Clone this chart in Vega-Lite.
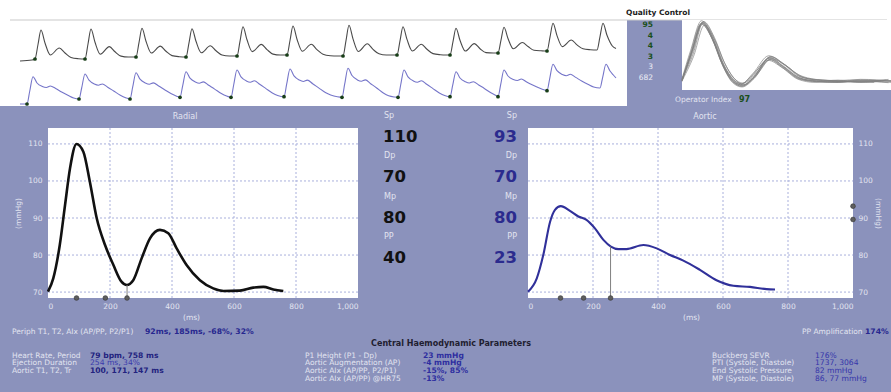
{
"$schema":"https://vega.github.io/schema/vega-lite/v6.json",
"width":891,"height":392,"autosize":{"type":"none"},"padding":0,
"background":"#8b92bc",
"config":{"view":{"stroke":null},"font":"DejaVu Sans",
"axis":{"grid":false,"domain":false,"ticks":false,"tickSize":0,"labelColor":"#e2e4f0","labelFont":"DejaVu Sans","labelFontSize":7.5,"titleColor":"#e2e4f0","titleFont":"DejaVu Sans","titleFontSize":7.5,"titleFontWeight":"normal"}},
"datasets":{
"radial":[{"t":0,"p":70.1},{"t":17,"p":73.7},{"t":38,"p":82.7},{"t":55,"p":93.5},{"t":71,"p":103.4},{"t":92,"p":110},{"t":114,"p":107.9},{"t":135,"p":99.8},{"t":157,"p":90},{"t":184,"p":82.7},{"t":211,"p":77.3},{"t":237,"p":72.8},{"t":254,"p":71.9},{"t":275,"p":73.2},{"t":302,"p":79.1},{"t":329,"p":84.5},{"t":361,"p":86.8},{"t":388,"p":85.9},{"t":415,"p":81.8},{"t":447,"p":77.3},{"t":490,"p":73.2},{"t":533,"p":71},{"t":566,"p":70.3},{"t":619,"p":70.4},{"t":662,"p":71.2},{"t":695,"p":71.4},{"t":727,"p":70.7},{"t":759,"p":70.3}],
"aortic":[{"t":0,"p":70.1},{"t":27,"p":73.7},{"t":47,"p":80},{"t":68,"p":89},{"t":83,"p":92.2},{"t":101,"p":93.2},{"t":129,"p":91.9},{"t":155,"p":90.4},{"t":180,"p":89.5},{"t":206,"p":87.2},{"t":232,"p":84.1},{"t":255,"p":82.3},{"t":278,"p":81.6},{"t":303,"p":81.6},{"t":355,"p":82.7},{"t":396,"p":81.8},{"t":437,"p":80},{"t":478,"p":78.5},{"t":529,"p":76},{"t":580,"p":73.2},{"t":632,"p":71.7},{"t":683,"p":71.4},{"t":734,"p":70.8},{"t":760,"p":70.7}],
"markers":[{"site":"Radial","t":92,"p":68.4},{"site":"Radial","t":185,"p":68.4},{"site":"Radial","t":255,"p":68.4},{"site":"Aortic","t":100,"p":68.4},{"site":"Aortic","t":171,"p":68.4},{"site":"Aortic","t":254,"p":68.4},{"site":"AorticRight","t":1000,"p":93.2},{"site":"AorticRight","t":1000,"p":89.6}],
"vgrid":[{"g":200,"p0":68.4,"p1":114.3},{"g":400,"p0":68.4,"p1":114.3},{"g":600,"p0":68.4,"p1":114.3},{"g":800,"p0":68.4,"p1":114.3}],
"hgrid":[{"g":70,"t0":0,"t1":1000},{"g":80,"t0":0,"t1":1000},{"g":90,"t0":0,"t1":1000},{"g":100,"t0":0,"t1":1000},{"g":110,"t0":0,"t1":1000}],
"plotArea":[{"t0":0,"t1":1000,"p0":68.4,"p1":114.3}],
"stripRadial":[{"t":300,"u":0},{"t":480,"u":1},
{"t":525,"u":2,"foot":1},{"t":570,"u":16.5},{"t":615,"u":31},{"t":675,"u":18},{"t":755,"u":6},{"t":890,"u":13},{"t":975,"u":8},{"t":1065,"u":3.5},{"t":1175,"u":2.3},
{"t":1275,"u":2,"foot":1},{"t":1320,"u":17},{"t":1365,"u":32},{"t":1425,"u":18.7},{"t":1505,"u":6.8},{"t":1640,"u":14.4},{"t":1725,"u":9.2},{"t":1815,"u":4.9},{"t":1925,"u":4},
{"t":2040,"u":4,"foot":1},{"t":2085,"u":18.4},{"t":2130,"u":32.7},{"t":2190,"u":19.8},{"t":2270,"u":8},{"t":2405,"u":14.9},{"t":2490,"u":9.7},{"t":2580,"u":5.4},{"t":2690,"u":4.3},
{"t":2790,"u":4,"foot":1},{"t":2835,"u":18.2},{"t":2880,"u":32.3},{"t":2940,"u":19.7},{"t":3020,"u":8.2},{"t":3155,"u":15.2},{"t":3240,"u":10.2},{"t":3330,"u":6},{"t":3440,"u":5},
{"t":3555,"u":5,"foot":1},{"t":3600,"u":19.7},{"t":3645,"u":34.3},{"t":3705,"u":21.2},{"t":3785,"u":9.4},{"t":3920,"u":16.6},{"t":4005,"u":11.4},{"t":4095,"u":6.9},{"t":4205,"u":6},
{"t":4305,"u":6,"foot":1},{"t":4350,"u":20.5},{"t":4395,"u":35},{"t":4455,"u":21.8},{"t":4535,"u":9.8},{"t":4670,"u":16.7},{"t":4755,"u":11.3},{"t":4845,"u":6.8},{"t":4955,"u":5.3},{"t":5065,"u":5},
{"t":5145,"u":5,"foot":1},{"t":5190,"u":20.4},{"t":5235,"u":35.7},{"t":5295,"u":22.1},{"t":5375,"u":9.5},{"t":5510,"u":17.3},{"t":5595,"u":11.6},{"t":5685,"u":7.2},{"t":5795,"u":6},{"t":5885,"u":6},
{"t":5955,"u":6,"foot":1},{"t":6000,"u":20.2},{"t":6045,"u":34.3},{"t":6105,"u":21.6},{"t":6185,"u":10},{"t":6320,"u":16.8},{"t":6405,"u":11.7},{"t":6495,"u":7.4},{"t":6605,"u":6.3},{"t":6685,"u":6},
{"t":6750,"u":6,"foot":1},{"t":6795,"u":19.4},{"t":6840,"u":32.7},{"t":6900,"u":20.7},{"t":6980,"u":10},{"t":7115,"u":17.4},{"t":7200,"u":12.3},{"t":7290,"u":8.4},{"t":7400,"u":8},
{"t":7470,"u":8,"foot":1},{"t":7515,"u":20.9},{"t":7560,"u":33.7},{"t":7620,"u":22.5},{"t":7700,"u":12.2},{"t":7835,"u":18.5},{"t":7920,"u":14.5},{"t":8010,"u":10.7},{"t":8120,"u":10.2},
{"t":8205,"u":10,"foot":1},{"t":8250,"u":23.9},{"t":8295,"u":37.7},{"t":8355,"u":25.4},{"t":8435,"u":14.4},{"t":8570,"u":21},{"t":8655,"u":16.1},{"t":8745,"u":12.2},{"t":8855,"u":11.3},
{"t":8955,"u":11},{"t":9000,"u":24.4},{"t":9045,"u":37.7},{"t":9105,"u":25.7},{"t":9185,"u":15},{"t":9240,"u":12.5}],
"stripAortic":[{"t":300,"v":0},
{"t":405,"v":0,"foot":1},{"t":445,"v":12.5},{"t":495,"v":27.3},{"t":555,"v":21},{"t":635,"v":17.5},{"t":695,"v":16.5},{"t":755,"v":18},{"t":835,"v":15.5},{"t":925,"v":12},{"t":1025,"v":8.5},{"t":1105,"v":6},
{"t":1185,"v":5,"foot":1},{"t":1225,"v":16},{"t":1275,"v":30},{"t":1335,"v":23.8},{"t":1415,"v":20},{"t":1475,"v":18.8},{"t":1535,"v":20},{"t":1615,"v":16.8},{"t":1705,"v":13},{"t":1805,"v":8.8},{"t":1885,"v":6.3},
{"t":1950,"v":5,"foot":1},{"t":1990,"v":16.8},{"t":2040,"v":31.3},{"t":2100,"v":24.8},{"t":2180,"v":21},{"t":2240,"v":19.7},{"t":2300,"v":21.1},{"t":2380,"v":18},{"t":2470,"v":14.2},{"t":2570,"v":10.2},{"t":2650,"v":7.8},
{"t":2700,"v":6.7,"foot":1},{"t":2740,"v":18.2},{"t":2790,"v":32.3},{"t":2850,"v":25.9},{"t":2930,"v":22.1},{"t":2990,"v":20.8},{"t":3050,"v":22.1},{"t":3130,"v":18.7},{"t":3220,"v":14.9},{"t":3320,"v":10.5},{"t":3400,"v":8},
{"t":3465,"v":6.7,"foot":1},{"t":3505,"v":19},{"t":3555,"v":34},{"t":3615,"v":27.2},{"t":3695,"v":23.1},{"t":3755,"v":21.8},{"t":3815,"v":23.2},{"t":3895,"v":19.7},{"t":3985,"v":15.6},{"t":4085,"v":11},{"t":4165,"v":8.5},
{"t":4260,"v":7.3,"foot":1},{"t":4300,"v":19.8},{"t":4350,"v":35},{"t":4410,"v":28.1},{"t":4490,"v":23.9},{"t":4550,"v":22.5},{"t":4610,"v":23.9},{"t":4690,"v":20.3},{"t":4780,"v":16.1},{"t":4880,"v":11.5},{"t":4960,"v":9},{"t":5060,"v":7.2},
{"t":5130,"v":6.7,"foot":1},{"t":5170,"v":19.8},{"t":5220,"v":35.7},{"t":5280,"v":28.5},{"t":5360,"v":24.1},{"t":5420,"v":22.7},{"t":5480,"v":24.1},{"t":5560,"v":20.3},{"t":5650,"v":16},{"t":5750,"v":11},{"t":5830,"v":8.2},{"t":5920,"v":7},
{"t":5970,"v":6.7,"foot":1},{"t":6010,"v":19},{"t":6060,"v":34},{"t":6120,"v":27.2},{"t":6200,"v":23.1},{"t":6260,"v":21.8},{"t":6320,"v":23.2},{"t":6400,"v":19.7},{"t":6490,"v":15.6},{"t":6590,"v":11},{"t":6670,"v":8.5},
{"t":6750,"v":7.3,"foot":1},{"t":6790,"v":18.6},{"t":6840,"v":32.3},{"t":6900,"v":26},{"t":6980,"v":22.3},{"t":7040,"v":21},{"t":7100,"v":22.3},{"t":7180,"v":19},{"t":7270,"v":15.3},{"t":7370,"v":11},{"t":7440,"v":8.5},
{"t":7470,"v":7.3,"foot":1},{"t":7510,"v":19.3},{"t":7560,"v":34},{"t":7620,"v":28},{"t":7700,"v":24.5},{"t":7760,"v":23.5},{"t":7820,"v":25},{"t":7900,"v":22},{"t":7990,"v":19},{"t":8090,"v":16},{"t":8170,"v":14},
{"t":8205,"v":13.3,"foot":1},{"t":8245,"v":25.2},{"t":8295,"v":39.7},{"t":8355,"v":33.3},{"t":8435,"v":29.5},{"t":8495,"v":28.3},{"t":8555,"v":29.7},{"t":8635,"v":26.6},{"t":8725,"v":23},{"t":8825,"v":19.5},{"t":8905,"v":17},
{"t":9000,"v":16},{"t":9040,"v":26.7},{"t":9090,"v":39.7},{"t":9150,"v":33},{"t":9200,"v":29},{"t":9240,"v":26}],
"qcTraces":[
{"trace":1,"t":0,"p":72.5},{"trace":1,"t":40,"p":90},{"trace":1,"t":85,"p":110},{"trace":1,"t":130,"p":99},{"trace":1,"t":170,"p":83},{"trace":1,"t":210,"p":72.5},{"trace":1,"t":250,"p":69},{"trace":1,"t":300,"p":75},{"trace":1,"t":365,"p":87},{"trace":1,"t":420,"p":82},{"trace":1,"t":490,"p":74},{"trace":1,"t":560,"p":72},{"trace":1,"t":650,"p":71.5},{"trace":1,"t":740,"p":72},{"trace":1,"t":870,"p":71},
{"trace":2,"t":0,"p":73},{"trace":2,"t":45,"p":89},{"trace":2,"t":90,"p":111},{"trace":2,"t":135,"p":100.5},{"trace":2,"t":175,"p":84.5},{"trace":2,"t":215,"p":74},{"trace":2,"t":255,"p":70.5},{"trace":2,"t":305,"p":76.5},{"trace":2,"t":370,"p":88},{"trace":2,"t":425,"p":83},{"trace":2,"t":495,"p":75},{"trace":2,"t":565,"p":72.5},{"trace":2,"t":655,"p":72},{"trace":2,"t":745,"p":71},{"trace":2,"t":850,"p":72.5},
{"trace":3,"t":0,"p":72},{"trace":3,"t":40,"p":91},{"trace":3,"t":85,"p":109},{"trace":3,"t":130,"p":98},{"trace":3,"t":170,"p":82},{"trace":3,"t":210,"p":71.5},{"trace":3,"t":250,"p":68.5},{"trace":3,"t":300,"p":74},{"trace":3,"t":365,"p":86},{"trace":3,"t":420,"p":81},{"trace":3,"t":490,"p":73},{"trace":3,"t":560,"p":71.5},{"trace":3,"t":650,"p":71},{"trace":3,"t":740,"p":72.5},{"trace":3,"t":880,"p":71.5},
{"trace":4,"t":0,"p":73.5},{"trace":4,"t":36,"p":92},{"trace":4,"t":81,"p":111.5},{"trace":4,"t":126,"p":101},{"trace":4,"t":166,"p":85},{"trace":4,"t":206,"p":74.5},{"trace":4,"t":246,"p":70},{"trace":4,"t":296,"p":77},{"trace":4,"t":361,"p":88.5},{"trace":4,"t":416,"p":84},{"trace":4,"t":486,"p":76},{"trace":4,"t":556,"p":73},{"trace":4,"t":646,"p":72},{"trace":4,"t":736,"p":71.5},{"trace":4,"t":860,"p":73},
{"trace":5,"t":0,"p":72},{"trace":5,"t":48,"p":88},{"trace":5,"t":93,"p":108.5},{"trace":5,"t":138,"p":98.5},{"trace":5,"t":178,"p":83.5},{"trace":5,"t":218,"p":73.5},{"trace":5,"t":258,"p":69.5},{"trace":5,"t":308,"p":75.5},{"trace":5,"t":373,"p":86.5},{"trace":5,"t":428,"p":82.5},{"trace":5,"t":498,"p":74.5},{"trace":5,"t":568,"p":72.5},{"trace":5,"t":658,"p":71.5},{"trace":5,"t":748,"p":72},{"trace":5,"t":880,"p":72},
{"trace":6,"t":0,"p":73},{"trace":6,"t":40,"p":90.5},{"trace":6,"t":85,"p":110.5},{"trace":6,"t":130,"p":99.5},{"trace":6,"t":170,"p":82.5},{"trace":6,"t":210,"p":72},{"trace":6,"t":250,"p":68.5},{"trace":6,"t":300,"p":74.5},{"trace":6,"t":365,"p":87.5},{"trace":6,"t":420,"p":81.5},{"trace":6,"t":490,"p":73.5},{"trace":6,"t":560,"p":71.5},{"trace":6,"t":650,"p":72.5},{"trace":6,"t":740,"p":71},{"trace":6,"t":840,"p":72},
{"trace":7,"t":0,"p":72.5},{"trace":7,"t":34,"p":89.5},{"trace":7,"t":79,"p":109.5},{"trace":7,"t":124,"p":100},{"trace":7,"t":164,"p":84},{"trace":7,"t":204,"p":73},{"trace":7,"t":244,"p":69.5},{"trace":7,"t":294,"p":76},{"trace":7,"t":359,"p":85.5},{"trace":7,"t":414,"p":81},{"trace":7,"t":484,"p":73},{"trace":7,"t":554,"p":71},{"trace":7,"t":644,"p":71.5},{"trace":7,"t":734,"p":72.5},{"trace":7,"t":870,"p":72},
{"trace":8,"t":0,"p":71.5},{"trace":8,"t":40,"p":91.5},{"trace":8,"t":85,"p":110},{"trace":8,"t":130,"p":98.5},{"trace":8,"t":170,"p":82},{"trace":8,"t":210,"p":71},{"trace":8,"t":250,"p":68},{"trace":8,"t":300,"p":73.5},{"trace":8,"t":365,"p":86},{"trace":8,"t":420,"p":80.5},{"trace":8,"t":490,"p":73.5},{"trace":8,"t":560,"p":72},{"trace":8,"t":650,"p":71},{"trace":8,"t":740,"p":71.5},{"trace":8,"t":800,"p":71},
{"trace":9,"t":0,"p":73},{"trace":9,"t":43,"p":90},{"trace":9,"t":88,"p":110.8},{"trace":9,"t":133,"p":100},{"trace":9,"t":173,"p":83},{"trace":9,"t":213,"p":72.5},{"trace":9,"t":253,"p":69.2},{"trace":9,"t":303,"p":75.2},{"trace":9,"t":368,"p":87.8},{"trace":9,"t":423,"p":82.8},{"trace":9,"t":493,"p":74.6},{"trace":9,"t":563,"p":72.8},{"trace":9,"t":653,"p":72.2},{"trace":9,"t":743,"p":73},{"trace":9,"t":875,"p":72},
{"trace":10,"t":0,"p":72},{"trace":10,"t":37,"p":89},{"trace":10,"t":82,"p":109.8},{"trace":10,"t":127,"p":99.2},{"trace":10,"t":167,"p":83.8},{"trace":10,"t":207,"p":73.8},{"trace":10,"t":247,"p":70.2},{"trace":10,"t":297,"p":76.2},{"trace":10,"t":362,"p":86.8},{"trace":10,"t":417,"p":81.8},{"trace":10,"t":487,"p":74.2},{"trace":10,"t":557,"p":71.8},{"trace":10,"t":647,"p":71.2},{"trace":10,"t":737,"p":71.8},{"trace":10,"t":860,"p":70.8}],
"qc":[{"index":"Average Pulse Height","value":"95"},{"index":"Pulse Height Variation","value":"4"},{"index":"Diastolic Variation","value":"4"},{"index":"Shape Deviation","value":"3"},{"index":"Pulse Length Variation","value":"3"},{"index":"Max dP/dt","value":"682"}],
"bp":[{"site":"Radial","param":"Sp","value":110},{"site":"Radial","param":"Dp","value":70},{"site":"Radial","param":"Mp","value":80},{"site":"Radial","param":"PP","value":40},{"site":"Aortic","param":"Sp","value":93},{"site":"Aortic","param":"Dp","value":70},{"site":"Aortic","param":"Mp","value":80},{"site":"Aortic","param":"PP","value":23}],
"summary":[{"item":"Periph T1, T2, AIx (AP/PP, P2/P1)","value":"92ms, 185ms, -68%, 32%"},{"item":"PP Amplification","value":"174%"}],
"params":[
{"col":"left","row":1,"label":"Heart Rate, Period","value":"79 bpm, 758 ms"},
{"col":"left","row":2,"label":"Ejection Duration","value":"254 ms, 34%"},
{"col":"left","row":3,"label":"Aortic T1, T2, Tr","value":"100, 171, 147 ms"},
{"col":"mid","row":1,"label":"P1 Height (P1 - Dp)","value":"23 mmHg"},
{"col":"mid","row":2,"label":"Aortic Augmentation (AP)","value":"-4 mmHg"},
{"col":"mid","row":3,"label":"Aortic AIx (AP/PP, P2/P1)","value":"-15%, 85%"},
{"col":"mid","row":4,"label":"Aortic AIx (AP/PP) @HR75","value":"-13%"},
{"col":"right","row":1,"label":"Buckberg SEVR","value":"176%"},
{"col":"right","row":2,"label":"PTI (Systole, Diastole)","value":"1737, 3064"},
{"col":"right","row":3,"label":"End Systolic Pressure","value":"82 mmHg"},
{"col":"right","row":4,"label":"MP (Systole, Diastole)","value":"86, 77 mmHg"}]
},
"resolve":{"scale":{"x":"independent","y":"independent"}},
"layer":[
{"data":{"values":[{"t0":0,"t1":9405,"u0":-45,"u1":61},{"t0":9405,"t1":13365,"u0":41,"u1":61}]},"mark":{"type":"rect","fill":"#ffffff"},"encoding":{"x":{"field":"t0","type":"quantitative","scale":{"domain":[0,9405],"range":[0,627],"nice":false,"zero":false},"axis":null},"x2":{"field":"t1"},"y":{"field":"u0","type":"quantitative","scale":{"domain":[0,31],"range":[61,30],"nice":false,"zero":false},"axis":null},"y2":{"field":"u1"}}},
{"data":{"values":[{"t0":150,"t1":13305,"u":41}]},"mark":{"type":"rule","color":"#c9c9c9","strokeWidth":1},"encoding":{"x":{"field":"t0","type":"quantitative","scale":{"domain":[0,9405],"range":[0,627],"nice":false,"zero":false},"axis":null},"x2":{"field":"t1"},"y":{"field":"u","type":"quantitative","scale":{"domain":[0,31],"range":[61,30],"nice":false,"zero":false},"axis":null}}},
{"data":{"name":"stripRadial"},"mark":{"type":"line","color":"#4a4a4a","strokeWidth":1.1,"interpolate":"monotone"},"encoding":{"x":{"field":"t","type":"quantitative","scale":{"domain":[0,9405],"range":[0,627],"nice":false,"zero":false},"axis":null},"y":{"field":"u","type":"quantitative","scale":{"domain":[0,31],"range":[61,30],"nice":false,"zero":false},"axis":null}}},
{"data":{"name":"stripRadial"},"transform":[{"filter":"datum.foot == 1"}],"mark":{"type":"circle","color":"#173d17","size":14,"opacity":1},"encoding":{"x":{"field":"t","type":"quantitative","scale":{"domain":[0,9405],"range":[0,627],"nice":false,"zero":false},"axis":null},"y":{"field":"u","type":"quantitative","scale":{"domain":[0,31],"range":[61,30],"nice":false,"zero":false},"axis":null}}},
{"data":{"name":"stripAortic"},"mark":{"type":"line","color":"#7575c9","strokeWidth":1.1,"interpolate":"monotone"},"encoding":{"x":{"field":"t","type":"quantitative","scale":{"domain":[0,9405],"range":[0,627],"nice":false,"zero":false},"axis":null},"y":{"field":"v","type":"quantitative","scale":{"domain":[0,27],"range":[104,77],"nice":false,"zero":false},"axis":null}}},
{"data":{"name":"stripAortic"},"transform":[{"filter":"datum.foot == 1"}],"mark":{"type":"circle","color":"#173d17","size":14,"opacity":1},"encoding":{"x":{"field":"t","type":"quantitative","scale":{"domain":[0,9405],"range":[0,627],"nice":false,"zero":false},"axis":null},"y":{"field":"v","type":"quantitative","scale":{"domain":[0,27],"range":[104,77],"nice":false,"zero":false},"axis":null}}},
{"data":{"values":[{"t0":0,"t1":870,"p0":66,"p1":112}]},"mark":{"type":"rect","fill":"#ffffff"},"encoding":{"x":{"field":"t0","type":"quantitative","scale":{"domain":[0,870],"range":[682,891],"nice":false,"zero":false},"axis":null},"x2":{"field":"t1"},"y":{"field":"p0","type":"quantitative","scale":{"domain":[66,112],"range":[90,20],"nice":false,"zero":false},"axis":null},"y2":{"field":"p1"}}},
{"data":{"name":"qcTraces"},"mark":{"type":"line","color":"#808080","strokeWidth":0.9,"opacity":0.75,"interpolate":"monotone"},"encoding":{"x":{"field":"t","type":"quantitative","scale":{"domain":[0,870],"range":[682,891],"nice":false,"zero":false},"axis":null},"y":{"field":"p","type":"quantitative","scale":{"domain":[66,112],"range":[90,20],"nice":false,"zero":false},"axis":null},"detail":{"field":"trace","type":"nominal"}}},
{"data":{"name":"qc"},"transform":[{"filter":{"field":"index","oneOf":["Average Pulse Height","Pulse Height Variation","Diastolic Variation","Shape Deviation"]}}],"mark":{"type":"text","align":"right","baseline":"middle","fontSize":7.5,"fontWeight":"bold","color":"#1a4f1a"},"encoding":{"x":{"field":"index","type":"nominal","scale":{"domain":["Average Pulse Height","Pulse Height Variation","Diastolic Variation","Shape Deviation","Pulse Length Variation","Max dP/dt"],"range":[653,653]},"axis":null},"y":{"field":"index","type":"nominal","scale":{"domain":["Average Pulse Height","Pulse Height Variation","Diastolic Variation","Shape Deviation","Pulse Length Variation","Max dP/dt"],"range":[25,78],"padding":0},"axis":null},"text":{"field":"value","type":"nominal"}}},
{"data":{"name":"qc"},"transform":[{"filter":{"field":"index","oneOf":["Pulse Length Variation","Max dP/dt"]}}],"mark":{"type":"text","align":"right","baseline":"middle","fontSize":7.5,"color":"#eceef6"},"encoding":{"x":{"field":"index","type":"nominal","scale":{"domain":["Average Pulse Height","Pulse Height Variation","Diastolic Variation","Shape Deviation","Pulse Length Variation","Max dP/dt"],"range":[653,653]},"axis":null},"y":{"field":"index","type":"nominal","scale":{"domain":["Average Pulse Height","Pulse Height Variation","Diastolic Variation","Shape Deviation","Pulse Length Variation","Max dP/dt"],"range":[25,78],"padding":0},"axis":null},"text":{"field":"value","type":"nominal"}}},
{"data":{"values":[{"label":"Operator Index","value":"97"}]},"mark":{"type":"text","align":"left","baseline":"middle","fontSize":7.5,"color":"#e2e4f0"},"encoding":{"x":{"field":"label","type":"nominal","scale":{"range":[675,675]},"axis":null},"y":{"field":"label","type":"nominal","scale":{"range":[100,100]},"axis":null},"text":{"field":"label","type":"nominal"}}},
{"data":{"values":[{"label":"Operator Index","value":"97"}]},"mark":{"type":"text","align":"left","baseline":"middle","fontSize":8,"fontWeight":"bold","color":"#1a4f1a"},"encoding":{"x":{"field":"value","type":"nominal","scale":{"range":[739,739]},"axis":null},"y":{"field":"value","type":"nominal","scale":{"range":[100,100]},"axis":null},"text":{"field":"value","type":"nominal"}}},
{"data":{"values":[{"panel":"Quality Control"}]},"mark":{"type":"text","align":"center","baseline":"middle","fontSize":7.5,"fontWeight":"bold","color":"#222222"},"encoding":{"x":{"field":"panel","type":"nominal","scale":{"range":[658,658]},"axis":null},"y":{"field":"panel","type":"nominal","scale":{"range":[13,13]},"axis":null},"text":{"field":"panel","type":"nominal"}}},

{"data":{"name":"plotArea"},"mark":{"type":"rect","fill":"#ffffff"},"encoding":{"x":{"field":"t0","type":"quantitative","scale":{"domain":[0,1000],"range":[48,358],"nice":false,"zero":false},"axis":null},"x2":{"field":"t1"},"y":{"field":"p0","type":"quantitative","scale":{"domain":[68.4,114.3],"range":[298,128],"nice":false,"zero":false},"axis":null},"y2":{"field":"p1"}}},
{"data":{"name":"vgrid"},"mark":{"type":"rule","color":"#a9b0dc","strokeWidth":1,"strokeDash":[2,2]},"encoding":{"x":{"field":"g","type":"quantitative","scale":{"domain":[0,1000],"range":[48,358],"nice":false,"zero":false},"axis":null},"y":{"field":"p0","type":"quantitative","scale":{"domain":[68.4,114.3],"range":[298,128],"nice":false,"zero":false},"axis":null},"y2":{"field":"p1"}}},
{"data":{"name":"hgrid"},"mark":{"type":"rule","color":"#a9b0dc","strokeWidth":1,"strokeDash":[2,2]},"encoding":{"y":{"field":"g","type":"quantitative","scale":{"domain":[68.4,114.3],"range":[298,128],"nice":false,"zero":false},"axis":null},"x":{"field":"t0","type":"quantitative","scale":{"domain":[0,1000],"range":[48,358],"nice":false,"zero":false},"axis":null},"x2":{"field":"t1"}}},
{"data":{"name":"radial"},"mark":{"type":"line","color":"#111111","strokeWidth":2.6,"interpolate":"monotone"},"encoding":{
 "x":{"field":"t","type":"quantitative","scale":{"domain":[0,1000],"range":[48,358],"nice":false,"zero":false},"axis":{"orient":"bottom","offset":-94,"values":[0,200,400,600,800,1000],"format":",.0f","labelPadding":4,"title":"(ms)","titleX":191,"titleY":19,"titleBaseline":"middle","titleAlign":"center"}},
 "y":{"field":"p","type":"quantitative","scale":{"domain":[68.4,114.3],"range":[298,128],"nice":false,"zero":false},"axis":{"orient":"left","offset":-48,"values":[70,80,90,100,110],"labelPadding":6,"title":"(mmHg)","titleX":-30,"titleY":213,"titleAngle":-90,"titleBaseline":"middle","titleAlign":"center"}}}},
{"data":{"values":[{"t":255,"p0":68.4,"p":71.9}]},"mark":{"type":"rule","color":"#808080","strokeWidth":1},"encoding":{"x":{"field":"t","type":"quantitative","scale":{"domain":[0,1000],"range":[48,358],"nice":false,"zero":false},"axis":null},"y":{"field":"p0","type":"quantitative","scale":{"domain":[68.4,114.3],"range":[298,128],"nice":false,"zero":false},"axis":null},"y2":{"field":"p"}}},
{"data":{"name":"markers"},"transform":[{"filter":"datum.site == 'Radial'"}],"mark":{"type":"circle","color":"#5e5e5e","size":22,"opacity":1,"stroke":"#3a3a3a","strokeWidth":0.7},"encoding":{"x":{"field":"t","type":"quantitative","scale":{"domain":[0,1000],"range":[48,358],"nice":false,"zero":false},"axis":null},"y":{"field":"p","type":"quantitative","scale":{"domain":[68.4,114.3],"range":[298,128],"nice":false,"zero":false},"axis":null}}},

{"data":{"name":"plotArea"},"mark":{"type":"rect","fill":"#ffffff"},"encoding":{"x":{"field":"t0","type":"quantitative","scale":{"domain":[0,1000],"range":[528,853],"nice":false,"zero":false},"axis":null},"x2":{"field":"t1"},"y":{"field":"p0","type":"quantitative","scale":{"domain":[68.4,114.3],"range":[298,128],"nice":false,"zero":false},"axis":null},"y2":{"field":"p1"}}},
{"data":{"name":"vgrid"},"mark":{"type":"rule","color":"#a9b0dc","strokeWidth":1,"strokeDash":[2,2]},"encoding":{"x":{"field":"g","type":"quantitative","scale":{"domain":[0,1000],"range":[528,853],"nice":false,"zero":false},"axis":null},"y":{"field":"p0","type":"quantitative","scale":{"domain":[68.4,114.3],"range":[298,128],"nice":false,"zero":false},"axis":null},"y2":{"field":"p1"}}},
{"data":{"name":"hgrid"},"mark":{"type":"rule","color":"#a9b0dc","strokeWidth":1,"strokeDash":[2,2]},"encoding":{"y":{"field":"g","type":"quantitative","scale":{"domain":[68.4,114.3],"range":[298,128],"nice":false,"zero":false},"axis":null},"x":{"field":"t0","type":"quantitative","scale":{"domain":[0,1000],"range":[528,853],"nice":false,"zero":false},"axis":null},"x2":{"field":"t1"}}},
{"data":{"name":"aortic"},"mark":{"type":"line","color":"#30309a","strokeWidth":2.1,"interpolate":"monotone"},"encoding":{
 "x":{"field":"t","type":"quantitative","scale":{"domain":[0,1000],"range":[528,853],"nice":false,"zero":false},"axis":{"orient":"bottom","offset":-94,"values":[0,200,400,600,800,1000],"format":",.0f","labelPadding":4,"title":"(ms)","titleX":691,"titleY":19,"titleBaseline":"middle","titleAlign":"center"}},
 "y":{"field":"p","type":"quantitative","scale":{"domain":[68.4,114.3],"range":[298,128],"nice":false,"zero":false},"axis":{"orient":"right","offset":-38,"values":[70,80,90,100,110],"labelPadding":5,"title":"(mmHg)","titleX":24,"titleY":213,"titleAngle":90,"titleBaseline":"middle","titleAlign":"center"}}}},
{"data":{"values":[{"t":254,"p0":68.4,"p":82.3}]},"mark":{"type":"rule","color":"#808080","strokeWidth":1},"encoding":{"x":{"field":"t","type":"quantitative","scale":{"domain":[0,1000],"range":[528,853],"nice":false,"zero":false},"axis":null},"y":{"field":"p0","type":"quantitative","scale":{"domain":[68.4,114.3],"range":[298,128],"nice":false,"zero":false},"axis":null},"y2":{"field":"p"}}},
{"data":{"name":"markers"},"transform":[{"filter":"datum.site != 'Radial'"}],"mark":{"type":"circle","color":"#5e5e5e","size":22,"opacity":1,"stroke":"#3a3a3a","strokeWidth":0.7},"encoding":{"x":{"field":"t","type":"quantitative","scale":{"domain":[0,1000],"range":[528,853],"nice":false,"zero":false},"axis":null},"y":{"field":"p","type":"quantitative","scale":{"domain":[68.4,114.3],"range":[298,128],"nice":false,"zero":false},"axis":null}}},

{"data":{"name":"bp"},"transform":[{"filter":"datum.site == 'Radial'"}],"mark":{"type":"text","align":"left","baseline":"middle","dy":-21,"dx":1,"fontSize":8,"color":"#e2e4f0"},"encoding":{"x":{"field":"site","type":"nominal","scale":{"domain":["Radial","Aortic"],"range":[383,517],"padding":0},"axis":null},"y":{"field":"param","type":"nominal","scale":{"domain":["Sp","Dp","Mp","PP"],"range":[137,258],"padding":0},"axis":null},"text":{"field":"param","type":"nominal"}}},
{"data":{"name":"bp"},"transform":[{"filter":"datum.site == 'Radial'"}],"mark":{"type":"text","align":"left","baseline":"middle","fontSize":16.5,"fontWeight":"bold","color":"#111111"},"encoding":{"x":{"field":"site","type":"nominal","scale":{"domain":["Radial","Aortic"],"range":[383,517],"padding":0},"axis":null},"y":{"field":"param","type":"nominal","scale":{"domain":["Sp","Dp","Mp","PP"],"range":[137,258],"padding":0},"axis":null},"text":{"field":"value","type":"quantitative"}}},
{"data":{"name":"bp"},"transform":[{"filter":"datum.site == 'Aortic'"}],"mark":{"type":"text","align":"right","baseline":"middle","dy":-21,"fontSize":8,"color":"#e2e4f0"},"encoding":{"x":{"field":"site","type":"nominal","scale":{"domain":["Radial","Aortic"],"range":[383,517],"padding":0},"axis":null},"y":{"field":"param","type":"nominal","scale":{"domain":["Sp","Dp","Mp","PP"],"range":[137,258],"padding":0},"axis":null},"text":{"field":"param","type":"nominal"}}},
{"data":{"name":"bp"},"transform":[{"filter":"datum.site == 'Aortic'"}],"mark":{"type":"text","align":"right","baseline":"middle","fontSize":16.5,"fontWeight":"bold","color":"#2b2b8e"},"encoding":{"x":{"field":"site","type":"nominal","scale":{"domain":["Radial","Aortic"],"range":[383,517],"padding":0},"axis":null},"y":{"field":"param","type":"nominal","scale":{"domain":["Sp","Dp","Mp","PP"],"range":[137,258],"padding":0},"axis":null},"text":{"field":"value","type":"quantitative"}}},
{"data":{"values":[{"panel":"Radial"},{"panel":"Aortic"}]},"mark":{"type":"text","align":"center","baseline":"middle","fontSize":8,"color":"#e2e4f0"},"encoding":{"x":{"field":"panel","type":"nominal","scale":{"domain":["Radial","Aortic"],"range":[185,705],"padding":0},"axis":null},"y":{"field":"panel","type":"nominal","scale":{"domain":["Radial","Aortic"],"range":[117,117]},"axis":null},"text":{"field":"panel","type":"nominal"}}},
{"data":{"name":"summary"},"mark":{"type":"text","align":"left","baseline":"middle","fontSize":7.5,"color":"#e2e4f0"},"encoding":{"x":{"field":"item","type":"nominal","scale":{"domain":["Periph T1, T2, AIx (AP/PP, P2/P1)","PP Amplification"],"range":[12,802],"padding":0},"axis":null},"y":{"field":"item","type":"nominal","scale":{"range":[332,332]},"axis":null},"text":{"field":"item","type":"nominal"}}},
{"data":{"name":"summary"},"mark":{"type":"text","align":"left","baseline":"middle","fontSize":7.7,"fontWeight":"bold","color":"#27278f"},"encoding":{"x":{"field":"item","type":"nominal","scale":{"domain":["Periph T1, T2, AIx (AP/PP, P2/P1)","PP Amplification"],"range":[145,865],"padding":0},"axis":null},"y":{"field":"item","type":"nominal","scale":{"range":[332,332]},"axis":null},"text":{"field":"value","type":"nominal"}}},
{"data":{"values":[{"heading":"Central Haemodynamic Parameters"}]},"mark":{"type":"text","align":"center","baseline":"middle","fontSize":8,"fontWeight":"bold","color":"#1f2030"},"encoding":{"x":{"field":"heading","type":"nominal","scale":{"range":[451,451]},"axis":null},"y":{"field":"heading","type":"nominal","scale":{"range":[344,344]},"axis":null},"text":{"field":"heading","type":"nominal"}}},

{"data":{"name":"params"},"transform":[{"filter":"datum.col == 'left'"}],"mark":{"type":"text","align":"left","baseline":"middle","fontSize":7.5,"color":"#e2e4f0"},"encoding":{"x":{"field":"col","type":"nominal","scale":{"range":[12,12]},"axis":null},"y":{"field":"row","type":"ordinal","scale":{"domain":[1,2,3,4],"range":[355.7,379],"padding":0},"axis":null},"text":{"field":"label","type":"nominal"}}},
{"data":{"name":"params"},"transform":[{"filter":"datum.col == 'left' && datum.label != 'Ejection Duration'"}],"mark":{"type":"text","align":"left","baseline":"middle","fontSize":7.6,"fontWeight":"bold","color":"#23237f"},"encoding":{"x":{"field":"col","type":"nominal","scale":{"range":[90,90]},"axis":null},"y":{"field":"row","type":"ordinal","scale":{"domain":[1,2,3,4],"range":[355.7,379],"padding":0},"axis":null},"text":{"field":"value","type":"nominal"}}},
{"data":{"name":"params"},"transform":[{"filter":"datum.label == 'Ejection Duration'"}],"mark":{"type":"text","align":"left","baseline":"middle","fontSize":7.6,"color":"#3a3aac"},"encoding":{"x":{"field":"col","type":"nominal","scale":{"range":[90,90]},"axis":null},"y":{"field":"row","type":"ordinal","scale":{"domain":[1,2,3,4],"range":[355.7,379],"padding":0},"axis":null},"text":{"field":"value","type":"nominal"}}},
{"data":{"name":"params"},"transform":[{"filter":"datum.col == 'mid'"}],"mark":{"type":"text","align":"left","baseline":"middle","fontSize":7.5,"color":"#e2e4f0"},"encoding":{"x":{"field":"col","type":"nominal","scale":{"range":[305,305]},"axis":null},"y":{"field":"row","type":"ordinal","scale":{"domain":[1,2,3,4],"range":[355.7,379],"padding":0},"axis":null},"text":{"field":"label","type":"nominal"}}},
{"data":{"name":"params"},"transform":[{"filter":"datum.col == 'mid'"}],"mark":{"type":"text","align":"left","baseline":"middle","fontSize":7.6,"fontWeight":"bold","color":"#2e2ea0"},"encoding":{"x":{"field":"col","type":"nominal","scale":{"range":[423,423]},"axis":null},"y":{"field":"row","type":"ordinal","scale":{"domain":[1,2,3,4],"range":[355.7,379],"padding":0},"axis":null},"text":{"field":"value","type":"nominal"}}},
{"data":{"name":"params"},"transform":[{"filter":"datum.col == 'right'"}],"mark":{"type":"text","align":"left","baseline":"middle","fontSize":7.5,"color":"#e2e4f0"},"encoding":{"x":{"field":"col","type":"nominal","scale":{"range":[712,712]},"axis":null},"y":{"field":"row","type":"ordinal","scale":{"domain":[1,2,3,4],"range":[355.7,379],"padding":0},"axis":null},"text":{"field":"label","type":"nominal"}}},
{"data":{"name":"params"},"transform":[{"filter":"datum.col == 'right'"}],"mark":{"type":"text","align":"left","baseline":"middle","fontSize":7.6,"color":"#3535aa"},"encoding":{"x":{"field":"col","type":"nominal","scale":{"range":[815,815]},"axis":null},"y":{"field":"row","type":"ordinal","scale":{"domain":[1,2,3,4],"range":[355.7,379],"padding":0},"axis":null},"text":{"field":"value","type":"nominal"}}}
]
}
